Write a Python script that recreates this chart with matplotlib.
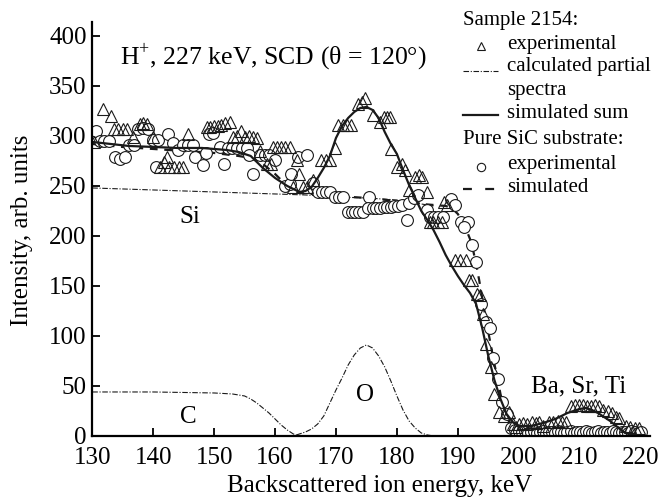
import matplotlib
matplotlib.use('Agg')
import matplotlib.pyplot as plt

plt.rcParams['font.family'] = ['Liberation Serif', 'DejaVu Serif']
plt.rcParams['mathtext.fontset'] = 'custom'
plt.rcParams['mathtext.rm'] = 'Liberation Serif'

# Sample 2154, experimental (triangles)
tri_x = [130.3, 131.8, 133.0, 133.6, 134.3, 135.0, 135.7, 136.7, 137.8, 138.4,
         139.0, 140.0, 141.1, 141.8, 142.2, 142.6, 143.4, 144.2, 144.9, 145.7,
         148.8, 149.4, 150.0, 150.6, 151.2, 151.8, 152.6, 153.1, 153.8, 154.4,
         155.0, 155.7, 156.4, 157.0, 157.5, 158.6, 159.3, 159.7, 160.3, 161.0,
         161.7, 162.4, 163.0, 163.6, 164.0, 164.6, 165.2, 166.2, 167.6, 168.3,
         169.0, 169.8, 170.4, 171.1, 171.8, 172.5, 173.6, 174.2, 174.7, 176.0,
         177.2, 177.8, 178.3, 178.8, 179.1, 180.0, 180.8, 181.3, 182.0, 183.0,
         183.6, 184.2, 184.9, 185.4, 186.0, 186.7, 187.4, 187.8, 188.2, 189.6,
         190.4, 191.3, 191.8, 192.3, 193.2, 193.6, 194.2, 194.6, 195.4, 196.0,
         196.8, 197.6, 198.4, 199.0, 199.5, 200.0, 200.7, 201.4, 202.1, 202.8,
         203.4, 204.0, 205.0, 205.7, 206.4, 207.1, 207.8, 208.6, 209.2, 209.9,
         210.5, 211.2, 211.8, 212.5, 213.2, 213.9, 214.6, 215.3, 216.0, 216.5,
         217.6, 218.3, 219.0, 219.8]
tri_y = [294, 327, 320, 307, 307, 307, 307, 299, 312, 313,
         312, 299, 269, 274, 279, 269, 269, 269, 269, 302,
         309, 309, 310, 310, 311, 313, 314, 299, 300, 305,
         299, 300, 299, 298, 285, 272, 272, 289, 289, 289,
         289, 289, 249, 276, 262, 249, 249, 256, 276, 276,
         276, 288, 311, 311, 311, 311, 332, 334, 338, 321,
         314, 319, 319, 319, 287, 269, 272, 266, 246, 259,
         261, 259, 244, 214, 214, 214, 214, 234, 231, 176,
         176, 176, 156, 156, 142, 141, 122, 92, 69, 42,
         24, 20, 24, 12, 9, 12, 13, 12, 14, 13,
         14, 10, 14, 14, 15, 14, 14, 30, 31, 31,
         31, 30, 30, 31, 30, 26, 25, 23, 19, 18,
         10, 9, 8, 8]

# Pure SiC substrate, experimental (circles)
circ_x = [130.6, 131.2, 132.0, 132.8, 133.8, 134.5, 135.3, 136.0, 136.8, 137.5,
          138.3, 139.2, 140.0, 140.5, 140.8, 142.4, 143.2, 144.0, 144.9, 145.7,
          146.5, 146.8, 148.2, 148.6, 149.2, 149.8, 150.9, 151.7, 152.3, 153.0,
          153.7, 154.5, 155.4, 155.8, 156.3, 157.5, 158.3, 159.0, 160.0, 161.6,
          162.4, 162.6, 163.7, 165.2, 166.2, 167.0, 167.7, 168.4, 169.0, 169.8,
          170.5, 171.2, 172.0, 172.6, 173.2, 173.8, 174.4, 175.5, 175.2, 176.0,
          176.6, 177.2, 177.8, 178.4, 179.0, 179.6, 180.2, 180.8, 181.6, 182.0,
          182.8, 183.4, 184.9, 185.4, 186.1, 186.8, 187.5, 188.9, 189.5, 190.5,
          191.6, 191.0, 192.4, 193.0, 193.8, 194.6, 195.3, 195.8, 196.6, 197.2,
          198.0, 198.8, 199.4, 200.0, 200.5, 201.0, 201.5, 202.0, 202.5, 203.0,
          203.5, 204.0, 204.5, 205.0, 205.5, 206.0, 206.5, 207.0, 207.5, 208.0,
          208.5, 209.0, 209.5, 210.0, 210.5, 211.0, 211.5, 212.0, 212.5, 213.0,
          213.5, 214.0, 214.5, 215.0, 215.5, 216.0, 216.5, 217.0, 217.5, 218.0,
          218.5, 219.0, 219.5, 220.0]
circ_y = [305, 295, 295, 295, 279, 277, 279, 291, 291, 307,
          308, 307, 296, 269, 296, 302, 293, 286, 291, 291,
          291, 279, 271, 283, 302, 303, 289, 272, 288, 288,
          288, 288, 288, 281, 262, 281, 281, 281, 276, 250,
          252, 262, 279, 281, 253, 244, 244, 244, 244, 239,
          239, 239, 224, 224, 224, 224, 224, 239, 228, 228,
          228, 228, 229, 229, 229, 230, 230, 231, 216, 233,
          238, 241, 226, 219, 219, 219, 219, 237, 231, 214,
          214, 209, 191, 174, 132, 114, 108, 78, 57, 34,
          22, 8, 6, 5, 4, 5, 3, 4, 5, 3,
          4, 5, 3, 4, 4, 3, 5, 4, 3, 4,
          5, 3, 4, 4, 3, 5, 4, 3, 4, 5,
          3, 4, 4, 3, 5, 4, 3, 4, 4, 3,
          5, 4, 3, 4]

# Sample 2154, simulated sum (solid)
sum_x = [130, 133, 136, 140, 144, 148, 150, 152, 154, 156, 158, 160, 162, 164,
         165, 166, 167, 168, 169, 170, 171, 172, 173, 174, 175, 176, 177, 178,
         179, 180, 181, 182, 183, 184, 185, 186, 187, 188, 189, 190, 191, 192,
         193, 194, 195, 196, 197, 198, 199, 200, 202, 204, 206, 208, 210, 211,
         212, 213, 214, 215, 216, 217, 218]
sum_y = [294, 292, 290, 289, 288, 288, 287, 286, 284, 280, 268, 258, 250, 244,
         245, 249, 258, 268, 280, 298, 310, 318, 324, 328, 329, 326, 318, 304,
         292, 282, 266, 251, 238, 225, 216, 206, 194, 181, 170, 160, 151, 143,
         132, 108, 80, 56, 37, 22, 14, 10, 10, 13, 17, 23, 27, 28,
         26, 23, 19, 15, 10, 5, 2]

# Pure SiC substrate, simulated (dashed)
sic_x = [130, 135, 140, 145, 150, 154, 156, 158, 160, 161, 162, 163, 164, 166,
         168, 170, 175, 180, 184, 186, 188, 189, 190, 191, 192, 192.5, 193,
         193.5, 194, 194.5, 195, 195.5, 196, 196.5, 197, 197.5, 198, 198.5,
         199, 200, 205, 210, 215, 220]
sic_y = [292, 289, 287, 285, 283, 280, 278, 272, 262, 256, 250, 245, 243, 242,
         241, 240, 238, 235, 232, 231, 230, 228, 222, 212, 197, 186, 172,
         156, 138, 120, 104, 88, 72, 58, 42, 30, 20, 13,
         8, 4, 3, 3, 3, 3]

# calculated partial spectra (dash-dot)
si_x = [130, 140, 150, 160, 165, 170, 175, 180, 183, 186]
si_y = [248, 246, 244, 242, 241, 239, 238, 236, 233, 230]
c_x = [130, 140, 150, 153, 155, 156, 157, 158, 159, 160, 161, 162, 163, 163.5]
c_y = [44, 44, 43, 42, 40, 37, 33, 28, 23, 17, 11, 6, 2, 1]
o_x = [163.5, 164, 165, 166, 167, 168, 169, 170, 171, 172, 173, 174, 175,
       176, 177, 178, 179, 180, 181, 182, 183, 184, 185, 186]
o_y = [1, 2, 4, 7, 12, 20, 33, 46, 58, 71, 81, 88, 91,
       88, 80, 69, 55, 40, 26, 15, 8, 3, 1, 0]

dashdot = (0, (5, 1.5, 1, 1.5))
ink = '#1a1a1a'

fig = plt.figure(figsize=(6.62, 4.99), dpi=100)
ax = fig.add_axes([0.1394, 0.1263, 0.843, 0.8297])

ax.plot(si_x, si_y, color=ink, lw=0.8, ls=dashdot)
ax.plot(c_x, c_y, color=ink, lw=0.8, ls=dashdot)
ax.plot(o_x, o_y, color=ink, lw=0.8, ls=dashdot)
ax.plot(sic_x, sic_y, color=ink, lw=1.6, ls=(0, (3.5, 3)))
ax.plot(circ_x, circ_y, 'o', ms=8.5, mfc='white', mec=ink, mew=0.8)
ax.plot(tri_x, tri_y, '^', ms=8.5, mfc='none', mec=ink, mew=0.8)
ax.plot(sum_x, sum_y, color=ink, lw=1.6)

ax.set_xlim(130, 221.6)
ax.set_ylim(0, 414)
ax.set_xticks(range(130, 221, 10))
ax.set_yticks(range(0, 401, 50))
for s in ['top', 'right']:
    ax.spines[s].set_visible(False)
for s in ['left', 'bottom']:
    ax.spines[s].set_linewidth(1.6)
ax.tick_params(direction='in', length=6, width=1.3, labelsize=18)
ax.tick_params(axis='x', pad=8)
ax.tick_params(axis='y', pad=4)

ax.text(134.5, 379, r'H$^{+}$, 227 keV, SCD (θ = 120°)', fontsize=18.5,
        va='center', ha='left')
ax.text(146, 219, 'Si', fontsize=18, ha='center', va='center')
ax.text(145.7, 19, 'C', fontsize=18, ha='center', va='center')
ax.text(174.7, 41, 'O', fontsize=18, ha='center', va='center')
ax.text(209.8, 50, 'Ba, Sr, Ti', fontsize=18, ha='center', va='center')

fig.text(22 / 662, 1 - 230 / 499, 'Intensity, arb. units', rotation=90,
         fontsize=18, ha='center', va='center')
fig.text(380 / 662, 1 - 486 / 499, 'Backscattered ion energy, keV',
         fontsize=18, ha='center', va='center')

# legend drawn by hand
def fx(px):
    return px / 662

def fy(py):
    return 1 - py / 499

lf = 15
fig.text(fx(463), fy(20), 'Sample 2154:', fontsize=lf, va='center')
fig.lines.append(plt.Line2D([fx(481)], [fy(46)], marker='^', ms=6, mfc='none',
                            mec=ink, mew=0.8, transform=fig.transFigure))
fig.text(fx(507), fy(44), 'experimental', fontsize=lf, va='center')
fig.lines.append(plt.Line2D([fx(463), fx(498)], [fy(71), fy(71)], color=ink,
                            lw=0.8, ls=dashdot, transform=fig.transFigure))
fig.text(fx(507), fy(67), 'calculated partial', fontsize=lf, va='center')
fig.text(fx(507), fy(91), 'spectra', fontsize=lf, va='center')
fig.lines.append(plt.Line2D([fx(463), fx(498)], [fy(115), fy(115)], color=ink,
                            lw=1.6, transform=fig.transFigure))
fig.text(fx(507), fy(114), 'simulated sum', fontsize=lf, va='center')
fig.text(fx(463), fy(139), 'Pure SiC substrate:', fontsize=lf, va='center')
fig.lines.append(plt.Line2D([fx(481)], [fy(167)], marker='o', ms=6, mfc='none',
                            mec=ink, mew=0.8, transform=fig.transFigure))
fig.text(fx(507), fy(164), 'experimental', fontsize=lf, va='center')
fig.lines.append(plt.Line2D([fx(463), fx(498)], [fy(189), fy(189)], color=ink,
                            lw=1.6, ls=(0, (4, 6)), transform=fig.transFigure))
fig.text(fx(507), fy(187), 'simulated', fontsize=lf, va='center')

fig.savefig('out.png', dpi=100)
